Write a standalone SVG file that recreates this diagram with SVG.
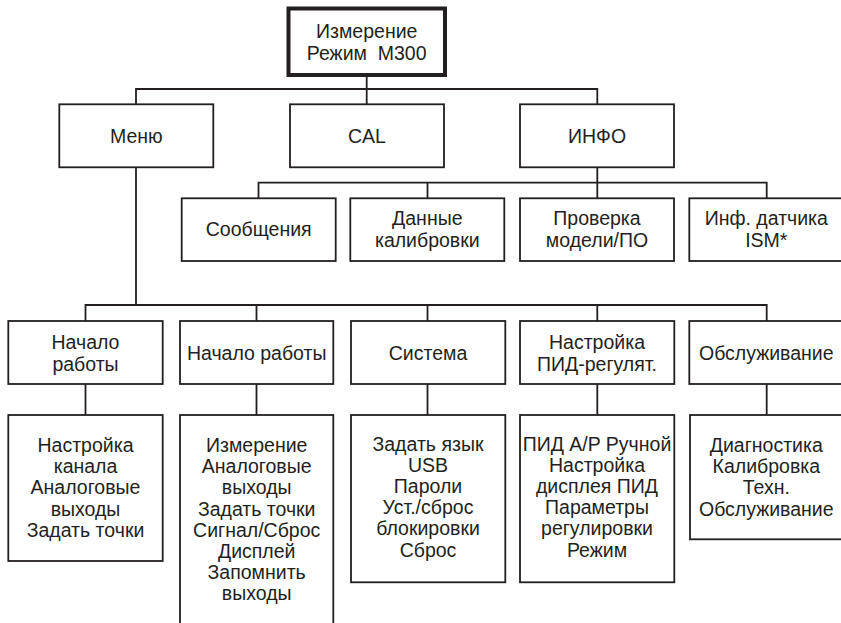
<svg xmlns="http://www.w3.org/2000/svg" width="841" height="623" viewBox="0 0 841 623">
  <style>
    .box { fill: #ffffff; stroke: #231f20; stroke-width: 1.8; }
    .root { fill: #ffffff; stroke: #231f20; stroke-width: 4; }
    .wire { fill: none; stroke: #231f20; stroke-width: 1.8; }
    text { font-family: "Liberation Sans", Arial, sans-serif; font-size: 19.5px; fill: #231f20; text-anchor: middle; }
  </style>
  <rect width="841" height="623" fill="#ffffff"/>

  <!-- connectors -->
  <g id="connectors" class="wire">
    <path d="M366.7 75 V104"/>
    <path d="M136 104 V89 H597.3 V104"/>
    <path d="M597.3 167 V198.3"/>
    <path d="M258.5 198.3 V182.7 H766.7 V198.3"/>
    <path d="M427.5 182.7 V198.3"/>
    <path d="M136 167 V305"/>
    <path d="M85.5 321 V305 H766.7 V321"/>
    <path d="M256.5 305 V321"/>
    <path d="M427.5 305 V321"/>
    <path d="M597.3 305 V321"/>
    <path d="M85.5 384 V415"/>
    <path d="M256.5 384 V415"/>
    <path d="M427.5 384 V415"/>
    <path d="M597.3 384 V415"/>
    <path d="M766.7 384 V415"/>
  </g>

  <!-- root -->
  <g id="root">
    <rect class="root" x="288.5" y="8.5" width="156.5" height="66.5"/>
    <text x="366.7" y="38">Измерение</text>
    <text x="366.7" y="60">Режим&#160; М300</text>
  </g>

  <!-- level 1 -->
  <g id="menu">
    <rect class="box" x="59.3" y="104.3" width="154" height="63"/>
    <text x="136.3" y="142.5">Меню</text>
  </g>
  <g id="cal">
    <rect class="box" x="290" y="104.3" width="154" height="63"/>
    <text x="367" y="142.5">CAL</text>
  </g>
  <g id="info">
    <rect class="box" x="520" y="104.3" width="154" height="63"/>
    <text x="597" y="142.5">ИНФО</text>
  </g>

  <!-- info children -->
  <g id="messages">
    <rect class="box" x="181.7" y="198.3" width="154" height="62.7"/>
    <text x="258.7" y="236">Сообщения</text>
  </g>
  <g id="cal-data">
    <rect class="box" x="350.3" y="198.3" width="154" height="62.7"/>
    <text x="427.3" y="225">Данные</text>
    <text x="427.3" y="246.5">калибровки</text>
  </g>
  <g id="model-check">
    <rect class="box" x="520" y="198.3" width="154" height="62.7"/>
    <text x="597" y="225">Проверка</text>
    <text x="597" y="246.5">модели/ПО</text>
  </g>
  <g id="ism-info">
    <rect class="box" x="689.3" y="198.3" width="154" height="62.7"/>
    <text x="766.3" y="225">Инф. датчика</text>
    <text x="766.3" y="246.5">ISM*</text>
  </g>

  <!-- menu children -->
  <g id="quick-setup">
    <rect class="box" x="8.3" y="321" width="154.4" height="63"/>
    <text x="85.5" y="349">Начало</text>
    <text x="85.5" y="370.5">работы</text>
    <rect class="box" x="8.3" y="415" width="154.4" height="146"/>
    <text x="85.5" y="452">Настройка</text>
    <text x="85.5" y="473.2">канала</text>
    <text x="85.5" y="494.4">Аналоговые</text>
    <text x="85.5" y="515.6">выходы</text>
    <text x="85.5" y="536.8">Задать точки</text>
  </g>
  <g id="setup">
    <rect class="box" x="180" y="321" width="153.3" height="63"/>
    <text x="256.7" y="359.5">Начало работы</text>
    <rect class="box" x="180" y="415" width="153.3" height="220"/>
    <text x="256.7" y="452">Измерение</text>
    <text x="256.7" y="473.2">Аналоговые</text>
    <text x="256.7" y="494.4">выходы</text>
    <text x="256.7" y="515.6">Задать точки</text>
    <text x="256.7" y="536.8">Сигнал/Сброс</text>
    <text x="256.7" y="558">Дисплей</text>
    <text x="256.7" y="579.2">Запомнить</text>
    <text x="256.7" y="600.4">выходы</text>
  </g>
  <g id="system">
    <rect class="box" x="351" y="321" width="154.3" height="63"/>
    <text x="428" y="359.5">Система</text>
    <rect class="box" x="351" y="415" width="154.3" height="167.3"/>
    <text x="428" y="450.5">Задать язык</text>
    <text x="428" y="471.7">USB</text>
    <text x="428" y="492.9">Пароли</text>
    <text x="428" y="514.1">Уст./сброс</text>
    <text x="428" y="535.3">блокировки</text>
    <text x="428" y="556.5">Сброс</text>
  </g>
  <g id="pid-setup">
    <rect class="box" x="520" y="321" width="154.3" height="63"/>
    <text x="597" y="349">Настройка</text>
    <text x="597" y="370.5">ПИД-регулят.</text>
    <rect class="box" x="520" y="415" width="154.3" height="167.3"/>
    <text x="597" y="450.5">ПИД A/P Ручной</text>
    <text x="597" y="471.7">Настройка</text>
    <text x="597" y="492.9">дисплея ПИД</text>
    <text x="597" y="514.1">Параметры</text>
    <text x="597" y="535.3">регулировки</text>
    <text x="597" y="556.5">Режим</text>
  </g>
  <g id="service">
    <rect class="box" x="689.3" y="321" width="154" height="63"/>
    <text x="766.3" y="359.5">Обслуживание</text>
    <rect class="box" x="690" y="415" width="154" height="124.3"/>
    <text x="766.3" y="452">Диагностика</text>
    <text x="766.3" y="473.2">Калибровка</text>
    <text x="766.3" y="494.4">Техн.</text>
    <text x="766.3" y="515.6">Обслуживание</text>
  </g>
</svg>
